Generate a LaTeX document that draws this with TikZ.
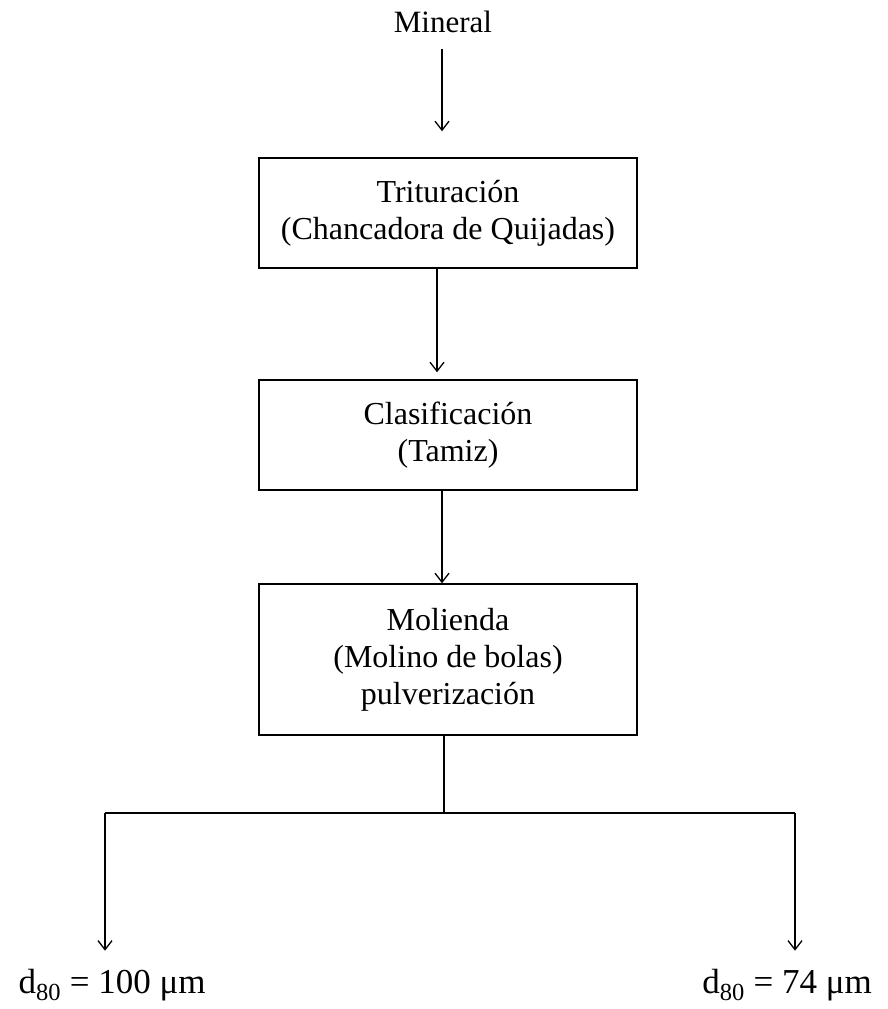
\documentclass[tikz,border=0pt]{standalone}
\usepackage{fontspec}
\setmainfont{Liberation Serif}
\usetikzlibrary{arrows.meta, positioning}
\tikzset{
  stage/.style ={rectangle, draw=black, line width=1.5pt, align=center,
                 minimum width=378pt, inner sep=0pt,
                 font=\fontsize{32}{37}\selectfont},
  lbl/.style   ={align=center, inner sep=0pt, font=\fontsize{31}{37}\selectfont},
  result/.style={align=center, inner sep=0pt, font=\fontsize{35}{40}\selectfont},
  flow/.style  ={-{Straight Barb[length=9pt, width=14pt, line width=1.3pt]}, draw=black, line width=1.5pt},
  link/.style  ={draw=black, line width=1.5pt},
}

\begin{document}
\begin{tikzpicture}[x=1pt, y=-1pt]
  \useasboundingbox (0,0) rectangle (888,1009);
  \node[lbl]   (mineral) at (443,22)    {Mineral};
  \node[stage, minimum height=110pt] (trit) at (448,213)   {Trituración\\(Chancadora de Quijadas)};
  \node[stage, minimum height=110pt] (clas) at (448,435)   {Clasificación\\(Tamiz)};
  \node[stage, minimum height=151pt] (mol)  at (448,659.5) {Molienda\\(Molino de bolas)\\pulverización};
  \node[result] (fino)   at (112,985)   {d\textsubscript{80} = 100 μm};
  \node[result] (ultra)  at (787,985)   {d\textsubscript{80} = 74 μm};
  \coordinate (split) at (444,813);
  \coordinate (izq)   at (105,813);
  \coordinate (der)   at (795,813);
  \draw[flow, shorten <=16pt, shorten >=26pt] ([xshift=-1pt]mineral.south) -- ([xshift=-1pt]mineral.south |- trit.north);
  \draw[flow, shorten >=7pt] ([xshift=-11pt]trit.south) -- ([xshift=-11pt]trit.south |- clas.north);
  \draw[flow] ([xshift=-6pt]clas.south) -- ([xshift=-6pt]clas.south |- mol.north);
  \draw[link] ([xshift=-4pt]mol.south) -- (split);
  \draw[link] (izq) -- (der);
  \draw[flow, shorten >=18pt] (izq) -- (izq |- fino.north);
  \draw[flow, shorten >=18pt] (der) -- (der |- ultra.north);
\end{tikzpicture}
\end{document}
